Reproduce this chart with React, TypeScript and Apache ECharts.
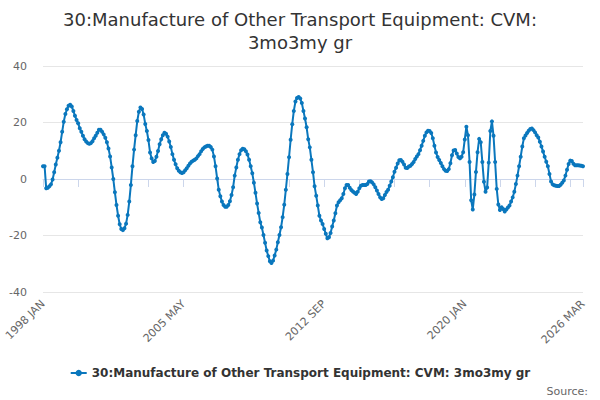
import { useEffect, useRef } from "react";
import * as echarts from "echarts";

// Monthly labels, 1998 JAN .. 2026 MAR
const MONTHS = ["JAN", "FEB", "MAR", "APR", "MAY", "JUN", "JUL", "AUG", "SEP", "OCT", "NOV", "DEC"];
const FIRST_YEAR = 1998;
const LAST_YEAR = 2026;
const LAST_MONTH = 2; // MAR

const CATEGORIES: string[] = [];
for (let y = FIRST_YEAR; y <= LAST_YEAR; y++) {
  for (let m = 0; m < 12; m++) {
    if (y === LAST_YEAR && m > LAST_MONTH) break;
    CATEGORIES.push(`${y} ${MONTHS[m]}`);
  }
}

// values, split by period
const VALUES_1998_2002 = [
  4.5, 4.5, -3.3, -3.1, -2.6, -1.9, -0.2, 2.4, 5.1, 7.5, 10.0, 13.0,
  16.7, 20.3, 23.0, 24.7, 25.9, 26.3, 25.7, 24.1, 22.4, 20.9, 19.7, 18.0,
  16.7, 15.3, 14.1, 13.3, 12.7, 12.5, 12.7, 13.4, 14.4, 15.3, 16.4, 17.4,
  17.4, 16.7, 15.8, 14.6, 13.0, 10.8, 8.0, 4.1, 0, -4.7, -9.2, -13,
  -16, -17.7, -18.1, -17.4, -15.8, -12.7, -8, -2.1, 4.5, 10.4, 15.5, 20.5,
];
const VALUES_2003_2007 = [
  23.8, 25.3, 24.8, 22.8, 19.5, 17, 13.8, 9.4, 7.3, 6.0, 6.4, 7.9,
  9.9, 12.3, 14.1, 15.5, 16.4, 16.0, 15.0, 13.3, 11.3, 8.8, 6.8, 5.2,
  3.8, 2.9, 2.4, 2.1, 2.4, 3.1, 3.8, 4.7, 5.5, 6.1, 6.5, 6.8,
  7.3, 8.1, 8.8, 9.8, 10.6, 11.2, 11.5, 11.8, 11.8, 11.3, 10.4, 8.0,
  4.5, 0.2, -3.8, -6.1, -8.0, -9.2, -9.8, -9.8, -9.2, -7.9, -5.7, -2.9,
];
const VALUES_2008_2012 = [
  1.2, 4.1, 6.8, 8.8, 10.2, 10.7, 10.5, 9.8, 8.7, 6.8, 4.5, 2.0,
  -1.3, -4.9, -8.7, -12, -15.3, -17.2, -19.8, -22.6, -25.3, -27.3, -29.1, -29.7,
  -28.9, -27.1, -25, -22.4, -19.8, -17.1, -13.5, -9.1, -3.8, 1.8, 7.7, 13.9,
  19.4, 24.1, 27.4, 28.7, 29.0, 28.5, 26.9, 24.1, 21.4, 18.3, 14.1, 11.2,
  6.8, 2.4, -2.6, -5.9, -9.4, -13, -14.7, -15.9, -17.7, -19.4, -21, -20.6,
];
const VALUES_2013_2017 = [
  -19.1, -16.8, -14.7, -12.1, -9.4, -8.2, -7.5, -6.8, -5.3, -3.3, -2.1, -2.1,
  -3.1, -3.9, -4.4, -4.9, -5.3, -4.5, -3.3, -2.4, -2.1, -2.1, -2.1, -1.8,
  -0.9, -0.8, -1.2, -1.9, -2.9, -4.1, -5.3, -6.5, -7.1, -6.8, -5.7, -4.6,
  -3.8, -2.4, -0.9, 0.6, 2.6, 4.0, 5.5, 6.6, 6.7, 6.1, 5.1, 4.0,
  3.9, 4.4, 4.7, 5.3, 6.0, 7.1, 8.0, 8.8, 10.2, 11.8, 13.5, 15.3,
];
const VALUES_2018_2022 = [
  16.5, 17.1, 17.0, 16.3, 14.4, 11.8, 9.4, 7.8, 6.7, 5.7, 4.5, 3.5,
  2.9, 2.8, 3.5, 5.6, 8.4, 10.1, 10.3, 9.0, 7.8, 7.3, 7.9, 9.5,
  14, 18.5, 15.5, 6, -7.5, -10.8, -5.5, 2.5, 9.5, 14.2, 13, 6,
  -1, -4.5, -3, 5.8, 17, 20.4, 15.3, 6, -3.5, -9, -11, -10.0,
  -10.6, -11.5, -10.8, -10.1, -9.4, -8.0, -6.5, -4.5, -1.8, 1.2, 4.5, 7.9,
];
const VALUES_2023_2026 = [
  11.5, 14.4, 15.4, 16.3, 17.1, 17.7, 17.9, 17.3, 16.5, 15.5, 14.7, 13.2,
  11.5, 9.7, 7.9, 6.1, 4.5, 1.8, -0.9, -1.9, -2.2, -2.4, -2.5, -2.5,
  -2.0, -1.3, -0.5, 1.2, 3.3, 5.3, 6.5, 6.4, 5.4, 4.9, 4.9, 4.9,
  4.8, 4.7, 4.5,
];

const VALUES = [
  ...VALUES_1998_2002,
  ...VALUES_2003_2007,
  ...VALUES_2008_2012,
  ...VALUES_2013_2017,
  ...VALUES_2018_2022,
  ...VALUES_2023_2026,
];

const SERIES_NAME = "30:Manufacture of Other Transport Equipment: CVM: 3mo3my gr";
const TITLE = "30:Manufacture of Other Transport Equipment: CVM:\n3mo3my gr";
const FONT = "'DejaVu Sans', sans-serif";
const LINE_COLOR = "#0a77bd";
const AXIS_COLOR = "#ccd6eb";

export default function App() {
  const chartRef = useRef<HTMLDivElement>(null);

  useEffect(() => {
    if (!chartRef.current) return;
    const chart = echarts.init(chartRef.current, undefined, { renderer: "svg" });
    const last = CATEGORIES.length - 1;

    const option: echarts.EChartsOption = {
      animation: false,
      textStyle: { fontFamily: FONT },
      title: {
        text: TITLE,
        left: "center",
        top: 3,
        textStyle: {
          fontFamily: FONT,
          fontSize: 18,
          fontWeight: "normal",
          color: "#333333",
          lineHeight: 23,
        },
      },
      grid: { left: 43, right: 17, top: 66, bottom: 108 },
      legend: {
        bottom: 16,
        left: "center",
        itemWidth: 16,
        itemHeight: 8,
        textStyle: { fontFamily: FONT, fontSize: 12, fontWeight: "bold", color: "#333333" },
        data: [SERIES_NAME],
      },
      xAxis: {
        type: "category",
        data: CATEGORIES,
        boundaryGap: false,
        axisLine: { lineStyle: { color: AXIS_COLOR } },
        axisTick: {
          show: true,
          length: 8,
          lineStyle: { color: AXIS_COLOR },
          interval: (i: number) => i % 22 === 0 || i === last,
        },
        axisLabel: {
          rotate: 45,
          fontSize: 11,
          color: "#666666",
          fontFamily: FONT,
          margin: 10,
          interval: (i: number) => i % 88 === 0 || i === last,
        },
        splitLine: { show: false },
      },
      yAxis: {
        type: "value",
        min: -40,
        max: 40,
        interval: 20,
        axisLine: { show: false },
        axisTick: { show: false },
        axisLabel: { fontSize: 11, color: "#666666", fontFamily: FONT, margin: 16 },
        splitLine: { lineStyle: { color: "#e6e6e6" } },
      },
      series: [
        {
          name: SERIES_NAME,
          type: "line",
          data: VALUES,
          symbol: "circle",
          symbolSize: 4,
          showAllSymbol: true,
          lineStyle: { width: 2, color: LINE_COLOR },
          itemStyle: { color: LINE_COLOR },
        },
      ],
      graphic: [
        {
          type: "text",
          right: 12,
          bottom: 3,
          style: { text: "Source:", fontFamily: FONT, fontSize: 11, fill: "#666666" },
        },
      ],
    };

    chart.setOption(option);
    return () => chart.dispose();
  }, []);

  return (
    <div
      ref={chartRef}
      style={{ position: "absolute", left: 0, top: 0, width: 600, height: 400 }}
    />
  );
}
